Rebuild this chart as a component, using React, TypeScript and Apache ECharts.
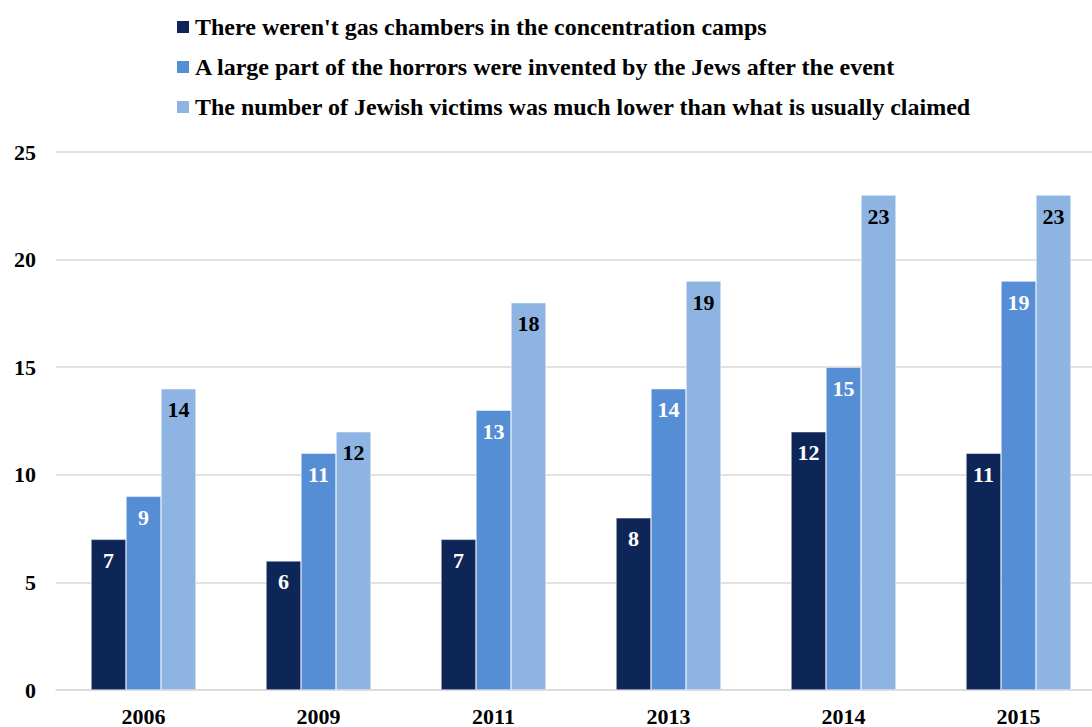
import React, { useEffect, useRef } from "react";
import * as echarts from "echarts";

const categories = ["2006", "2009", "2011", "2013", "2014", "2015"];
const seriesNames = [
  "There weren't gas chambers in the concentration camps",
  "A large part of the horrors were invented by the Jews after the event",
  "The number of Jewish victims was much lower than what is usually claimed",
];
const gasChambers = [7, 6, 7, 8, 12, 11];
const horrorsInvented = [9, 11, 13, 14, 15, 19];
const victimsLower = [14, 12, 18, 19, 23, 23];
const colors = ["#0E2657", "#558ED5", "#8EB4E3"];
const labelColors = ["#ffffff", "#ffffff", "#000000"];

const FONT = "'Liberation Serif', 'DejaVu Serif', serif";

export default function App() {
  const ref = useRef<HTMLDivElement>(null);
  useEffect(() => {
    document.body.style.margin = "0";
    document.body.style.overflow = "hidden";
    const chart = echarts.init(ref.current!, undefined, { renderer: "svg" });
    const data = [gasChambers, horrorsInvented, victimsLower];
    chart.setOption({
      animation: false,
      textStyle: { fontFamily: FONT },
      legend: {
        orient: "vertical",
        left: 170,
        top: 10,
        itemWidth: 14,
        itemHeight: 14,
        itemGap: 16,
        icon: "rect",
        textStyle: { fontFamily: FONT, fontWeight: "bold", fontSize: 24, color: "#000" },
        data: seriesNames,
      },
      grid: { left: 56, right: 0, top: 152, bottom: 36, containLabel: false },
      xAxis: {
        type: "category",
        data: categories,
        axisLine: { lineStyle: { color: "#d9d9d9", width: 1.5 } },
        axisTick: { show: false },
        axisLabel: { fontFamily: FONT, fontWeight: "bold", fontSize: 22, color: "#000", margin: 15 },
      },
      yAxis: {
        type: "value",
        min: 0,
        max: 25,
        interval: 5,
        axisLine: { show: false },
        axisTick: { show: false },
        splitLine: { lineStyle: { color: "#d9d9d9", width: 1.5 } },
        axisLabel: { fontFamily: FONT, fontWeight: "bold", fontSize: 22, color: "#000", margin: 20 },
      },
      series: seriesNames.map((name, i) => ({
        name,
        type: "bar",
        data: data[i],
        barGap: "0%",
        barCategoryGap: "40%",
        itemStyle: { color: colors[i], borderColor: "#ffffff", borderWidth: 0.5 },
        label: {
          show: true,
          position: "insideTop",
          distance: 10,
          fontFamily: FONT,
          fontWeight: "bold",
          fontSize: 22,
          color: labelColors[i],
        },
      })),
    });
    return () => chart.dispose();
  }, []);
  return (
    <div style={{ width: 1092, height: 727, overflow: "hidden" }}>
      <div ref={ref} style={{ width: 1106, height: 727 }} />
    </div>
  );
}
